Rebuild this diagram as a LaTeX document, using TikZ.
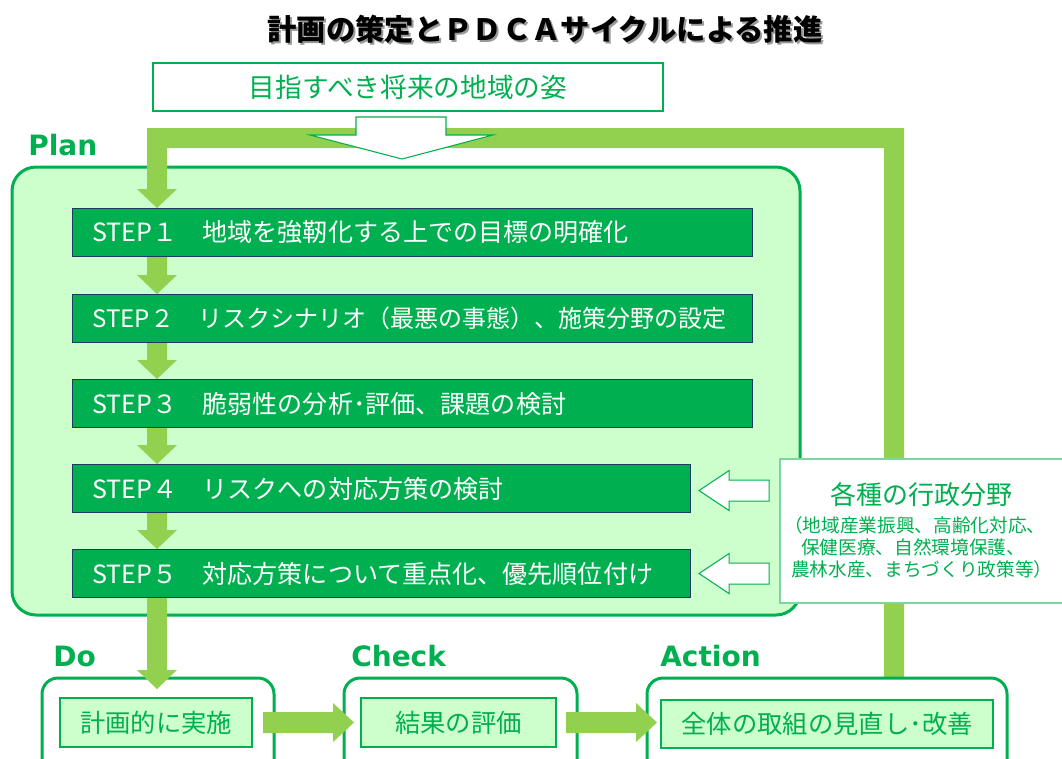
\documentclass[tikz,border=0pt]{standalone}
\usepackage{fontspec}
\setmainfont{Noto Sans CJK JP}
\newfontfamily\labfont{DejaVu Sans}
\usetikzlibrary{calc}
\definecolor{dg}{HTML}{00B050}
\definecolor{lg}{HTML}{92D050}
\definecolor{pg}{HTML}{CCFFCC}
\definecolor{navy}{HTML}{1F3864}
\definecolor{ag}{HTML}{80D4A4}
\newcommand\shadowtext[1]{\makebox[0pt][l]{\kern1.5pt\raisebox{-1.5pt}{\color{black!40}#1}}#1}
\newcommand\blockdown[2]{%
  \fill[lg] ($(#1)+(-10,0)$) -- ($(#1)+(10,0)$) -- ($(#2)+(10,-19)$) -- ($(#2)+(20,-19)$) -- (#2) -- ($(#2)+(-20,-19)$) -- ($(#2)+(-10,-19)$) -- cycle;}
\newcommand\blockright[2]{%
  \fill[lg] ($(#1)+(0,-10.5)$) -- ($(#2)+(-21,-10.5)$) -- ($(#2)+(-21,-19.5)$) -- (#2) -- ($(#2)+(-21,19.5)$) -- ($(#2)+(-21,10.5)$) -- ($(#1)+(0,10.5)$) -- cycle;}
\newcommand\openleft[1]{%
  \draw[dg, line width=0.8pt, fill=white] (#1) -- ($(#1)+(30,-20)$) -- ($(#1)+(30,-10.5)$) -- ($(#1)+(70,-10.5)$) -- ($(#1)+(70,10.5)$) -- ($(#1)+(30,10.5)$) -- ($(#1)+(30,20)$) -- cycle;}
\begin{document}
\begin{tikzpicture}[x=0.75pt,y=-0.75pt,
  stepbox/.style={draw=navy, line width=0.8pt, fill=dg, text=white, anchor=north west,
    minimum height=36pt, inner xsep=15pt, align=left,
    font=\fontsize{18.8}{20}\selectfont},
  innerbox/.style={draw=dg, line width=1pt, fill=pg, text=dg, minimum height=36.75pt,
    font=\fontsize{19}{21}\selectfont},
  phase/.style={anchor=base west, text=dg, inner sep=0pt, font=\labfont\bfseries\fontsize{21}{24}\selectfont},
  outerbox/.style={draw=dg, line width=2.25pt, fill=white, rounded corners=12pt},
  admintext/.style={anchor=west, text=dg, inner sep=0pt, font=\fontsize{14}{16}\selectfont}
]
\useasboundingbox (0,0) rectangle (1062,758);
\fill[white] (0,0) rectangle (1062,758);

% title
\node[text=black, font=\bfseries\fontsize{22}{24}\selectfont] (title) at (545,30) {\shadowtext{計画の策定とＰＤＣＡサイクルによる推進}};

% goal
\node[draw=dg, line width=0.8pt, fill=white, minimum width=382.5pt, minimum height=36pt,
  text=dg, font=\fontsize{20}{22}\selectfont] (goal) at (408,87) {目指すべき将来の地域の姿};

% labels
\node[phase] (planlab) at (28,155) {Plan};

% plan box
\draw[draw=dg, line width=2.25pt, fill=pg, rounded corners=18pt] (12,167) rectangle (800,615);

% steps
\node[stepbox, text width=480pt] (s1) at (72,208) {STEP１　地域を強靭化する上での目標の明確化};
\node[stepbox, text width=480pt, font=\fontsize{18}{20}\selectfont] (s2) at (72,294) {STEP２　リスクシナリオ（最悪の事態）、施策分野の設定};
\node[stepbox, text width=480pt] (s3) at (72,379) {STEP３　脆弱性の分析･評価、課題の検討};
\node[stepbox, text width=433.5pt] (s4) at (72,464) {STEP４　リスクへの対応方策の検討};
\node[stepbox, text width=433.5pt] (s5) at (72,549) {STEP５　対応方策について重点化、優先順位付け};

% feedback loop
\coordinate (looptip) at (157,0 |- s1.north);
\fill[lg] (147,128) -- (904,128) -- (904,693) -- (884,693) -- (884,148) -- (167,148)
  -- ($(looptip)+(10,-19)$) -- ($(looptip)+(20,-19)$) -- (looptip) -- ($(looptip)+(-20,-19)$) -- ($(looptip)+(-10,-19)$) -- cycle;

% open down arrow from goal
\coordinate (gtip) at (402,159);
\draw[dg, line width=0.8pt, fill=white] (356,117) -- (446,117) -- (446,135) -- (493,135) -- (gtip) -- (310,135) -- (356,135) -- cycle;

% arrows between steps
\foreach \a/\b in {s1/s2, s2/s3, s3/s4, s4/s5}{
  \coordinate (top) at (157,0 |- \a.south);
  \coordinate (tip) at (157,0 |- \b.north);
  \blockdown{top}{tip}
}

% admin box
\draw[draw=ag, line width=1.5pt, fill=white] (780,459) rectangle (1080,603);
\node[text=dg, inner sep=0pt, font=\fontsize{19.5}{22}\selectfont] (admin) at (921,495) {各種の行政分野};
\node[admintext] (ad1) at (784,525) {（地域産業振興、高齢化対応、};
\node[admintext] (ad2) at (801,547) {保健医療、自然環境保護、};
\node[admintext] (ad3) at (791,569) {農林水産、まちづくり政策等）};

% open left arrows
\coordinate (la1) at ($(s4.east)+(8,2)$);
\coordinate (la2) at ($(s5.east)+(8,0)$);
\openleft{la1}
\openleft{la2}

% phases
\node[phase] (dolab) at (53,666) {Do};
\node[phase] (checklab) at (351,666) {Check};
\node[phase] (actlab) at (660,666) {Action};

\draw[outerbox] (42,678) rectangle (274,800);
\draw[outerbox] (344,678) rectangle (577,800);
\draw[outerbox] (647,678) rectangle (1007,800);

\node[innerbox, minimum width=144pt] (doin) at (156,722.5) {計画的に実施};
\node[innerbox, minimum width=146.25pt] (checkin) at (458.5,722.5) {結果の評価};
\node[innerbox, minimum width=249pt, minimum height=36pt] (actin) at (827,724) {全体の取組の見直し･改善};

% STEP5 -> Do
\coordinate (dtop) at (157,0 |- s5.south);
\coordinate (dtip) at (157,689);
\blockdown{dtop}{dtip}

% Do -> Check -> Action
\coordinate (r1s) at (263,722.5);
\coordinate (r1t) at (354,722.5);
\blockright{r1s}{r1t}
\coordinate (r2s) at (566,722.5);
\coordinate (r2t) at (657,722.5);
\blockright{r2s}{r2t}
\end{tikzpicture}
\end{document}
